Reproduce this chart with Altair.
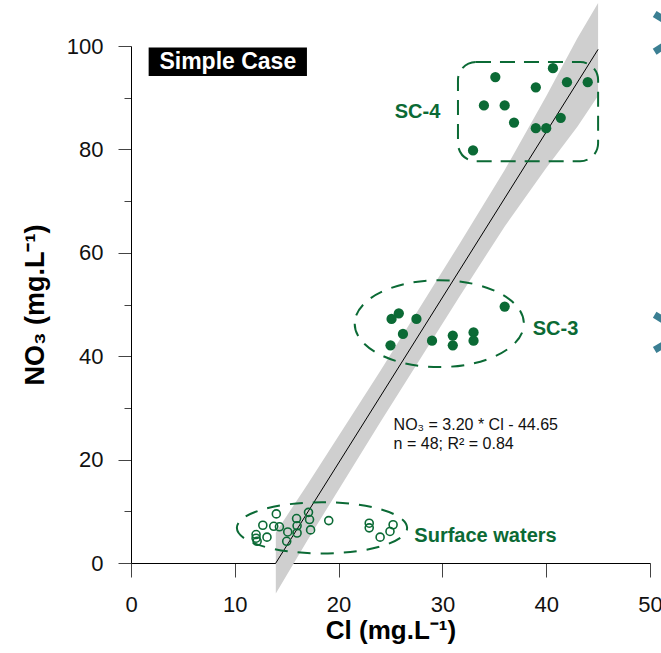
import altair as alt
import pandas as pd

GREEN = "#0b6a35"
TEAL = "#3b7f93"
BAND = "#cfcfcf"
FONT = "Liberation Sans"

# ---- samples: chloride (mg/L) vs nitrate (mg/L) ----
sc4_cl = [35.1, 40.65, 39.0, 42.0, 44.0, 34.0, 36.0, 36.9, 39.0, 40.0, 41.4, 32.95]
sc4_no3 = [94.0, 95.7, 92.0, 93.0, 93.0, 88.5, 88.5, 85.2, 84.1, 84.1, 86.1, 79.8]

sc3_cl = [25.8, 25.1, 27.5, 26.2, 25.0, 29.0, 31.0, 31.0, 33.0, 33.0, 36.0]
sc3_no3 = [48.3, 47.2, 47.2, 44.3, 42.1, 43.0, 44.0, 42.1, 44.6, 43.0, 49.6]

sw_cl = [14.0, 12.7, 13.75, 14.3, 12.05, 13.1, 12.05, 12.15, 15.1, 15.0, 15.95,
         16.0, 16.0, 17.1, 17.2, 17.3, 19.05, 22.95, 22.95, 24.0, 24.95, 25.25]
sw_no3 = [9.5, 7.3, 7.1, 7.0, 5.5, 5.0, 4.8, 4.2, 6.0, 4.2, 8.6,
          7.2, 5.8, 9.8, 8.4, 6.4, 8.2, 7.7, 6.8, 5.0, 6.1, 7.4]

# ---- linear fit NO3 = 3.20 * Cl - 44.65 and its shaded band ----
slope, intercept = 3.20, -44.65
fit_cl = [13.95, 45.0]
band_cl = [13.95, 17.0, 24.0, 31.7, 36.0, 40.0, 43.0, 45.0]
band_lo = [-5.9, 4.4, 27.2, 51.7, 65.1, 76.4, 84.4, 90.4]
band_hi = [5.9, 15.2, 37.1, 61.9, 76.0, 90.3, 101.5, 108.3]

# ---- group outlines (centre / half extents in data units) ----
sc3_ring = {"cl": 29.7, "no3": 46.3, "half_cl": 8.15, "half_no3": 8.4}
sw_ring = {"cl": 18.4, "no3": 6.8, "half_cl": 8.2, "half_no3": 4.95}
sc4_box = {"cl": [31.5, 45.0], "no3": [77.7, 96.9]}

# ---- text annotations ----
group_labels_left = {"text": ["SC-3", "Surface waters"], "cl": [38.7, 27.3], "no3": [45.3, 5.2]}
group_labels_right = {"text": ["SC-4"], "cl": [29.8], "no3": [87.3]}
eq_lines = {"text": ["NO\u2083 = 3.20 * Cl - 44.65", "n = 48; R\u00b2 = 0.84"],
            "cl": [25.3, 25.3], "no3": [25.8, 22.1]}
badge = {"cl": [1.7, 16.95], "no3": [94.2, 99.7], "text": "Simple Case"}

# arrow heads of the neighbouring panel, cut by the right edge
chevron_arms = {"cl": [50.45, 50.45, 50.45, 50.45],
                "tip_cl": [53.3, 53.3, 53.3, 53.3],
                "no3": [106.2, 98.9, 48.0, 41.2],
                "tip_no3": [102.6, 102.6, 44.6, 44.6]}

W, H = 519, 517
X_MAX, Y_MAX = 50, 100
PX_X, PX_Y = W / X_MAX, H / Y_MAX

x_scale = alt.Scale(domain=[0, X_MAX], nice=False, zero=False)
y_scale = alt.Scale(domain=[0, Y_MAX], nice=False, zero=False)

x_axis = alt.Axis(values=[0, 10, 20, 30, 40, 50], tickSize=14, tickColor="#444",
                  domainColor="#000", labelFontSize=22, labelColor="#111", labelFont=FONT,
                  labelPadding=17, labelFlush=False, title="Cl (mg.L\u207b\u00b9)",
                  titleFont=FONT, titleFontSize=26, titleFontWeight="bold",
                  titleColor="#000", titlePadding=2, grid=False)
y_axis = alt.Axis(values=list(range(0, 101, 10)),
                  tickSize={"condition": {"test": "datum.value % 20 === 0", "value": 13}, "value": 7},
                  tickColor="#444", domainColor="#000", labelFontSize=22, labelColor="#111",
                  labelFont=FONT, labelPadding=15, labelFlush=False, labelOverlap=False,
                  labelExpr="datum.value % 20 === 0 ? datum.label : ''",
                  title="NO\u2083 (mg.L\u207b\u00b9)", titleFont=FONT, titleFontSize=27,
                  titleFontWeight="bold", titleColor="#000", titlePadding=17, grid=False)


def X(field="cl"):
    return alt.X(f"{field}:Q", scale=x_scale, axis=x_axis)


def Y(field="no3"):
    return alt.Y(f"{field}:Q", scale=y_scale, axis=y_axis)


def ellipse_path(ring):
    a = ring["half_cl"] * PX_X
    b = ring["half_no3"] * PX_Y
    return f"M{-a:.2f},0 A{a:.2f},{b:.2f} 0 1,0 {a:.2f},0 A{a:.2f},{b:.2f} 0 1,0 {-a:.2f},0 Z"


band = alt.Chart(pd.DataFrame({"cl": band_cl, "lo": band_lo, "hi": band_hi})).mark_area(
    color=BAND, clip=False
).encode(x=X(), y=Y("lo"), y2="hi:Q")

fit_df = pd.DataFrame({"cl": fit_cl, "no3": [slope * c + intercept for c in fit_cl]})
fit = alt.Chart(fit_df).mark_line(color="#000", strokeWidth=1, clip=False).encode(x=X(), y=Y())

rings = []
for ring in (sc3_ring, sw_ring):
    rings.append(
        alt.Chart(pd.DataFrame({"cl": [ring["cl"]], "no3": [ring["no3"]]})).mark_point(
            shape=ellipse_path(ring), size=4, filled=False, stroke=GREEN, strokeWidth=2,
            strokeDash=[13, 10], opacity=1
        ).encode(x=X(), y=Y())
    )

box = alt.Chart(pd.DataFrame({"cl": [sc4_box["cl"][0]], "cl2": [sc4_box["cl"][1]],
                              "no3": [sc4_box["no3"][0]], "no32": [sc4_box["no3"][1]]})).mark_rect(
    fillOpacity=0, stroke=GREEN, strokeWidth=2, strokeDash=[15, 9], cornerRadius=18
).encode(x=X(), x2="cl2:Q", y=Y(), y2="no32:Q")

filled = alt.Chart(pd.DataFrame({"cl": sc4_cl + sc3_cl, "no3": sc4_no3 + sc3_no3})).mark_circle(
    size=105, color=GREEN, opacity=1
).encode(x=X(), y=Y())

hollow = alt.Chart(pd.DataFrame({"cl": sw_cl, "no3": sw_no3})).mark_point(
    size=64, filled=False, color=GREEN, strokeWidth=1.6, opacity=1
).encode(x=X(), y=Y())

labels_l = alt.Chart(pd.DataFrame(group_labels_left)).mark_text(
    align="left", baseline="middle", font=FONT, fontSize=20, fontWeight="bold", color=GREEN
).encode(x=X(), y=Y(), text="text:N")
labels_r = alt.Chart(pd.DataFrame(group_labels_right)).mark_text(
    align="right", baseline="middle", font=FONT, fontSize=20, fontWeight="bold", color=GREEN
).encode(x=X(), y=Y(), text="text:N")

equation = alt.Chart(pd.DataFrame(eq_lines)).mark_text(
    align="left", baseline="alphabetic", font=FONT, fontSize=16, color="#111"
).encode(x=X(), y=Y(), text="text:N")

badge_bg = alt.Chart(pd.DataFrame({"cl": [badge["cl"][0]], "cl2": [badge["cl"][1]],
                                   "no3": [badge["no3"][0]], "no32": [badge["no3"][1]]})).mark_rect(
    color="#000"
).encode(x=X(), x2="cl2:Q", y=Y(), y2="no32:Q")
badge_txt = alt.Chart(pd.DataFrame({"cl": [sum(badge["cl"]) / 2], "no3": [sum(badge["no3"]) / 2],
                                    "text": [badge["text"]]})).mark_text(
    align="center", baseline="middle", font=FONT, fontSize=23, fontWeight="bold", color="#fff"
).encode(x=X(), y=Y(), text="text:N")

chevrons = alt.Chart(pd.DataFrame(chevron_arms)).mark_rule(
    color=TEAL, strokeWidth=7, strokeCap="butt", clip=False
).encode(x=X(), x2="tip_cl:Q", y=Y(), y2="tip_no3:Q")

chart = alt.layer(
    band, fit, *rings, box, hollow, filled, labels_l, labels_r, equation, badge_bg, badge_txt, chevrons
).properties(
    width=W, height=H, autosize=alt.AutoSizeParams(type="none"),
    padding={"left": 131, "top": 46, "right": 661 - 131 - W, "bottom": 653 - 46 - H},
    background="#ffffff"
).configure_view(stroke=None)

chart.save("out.html", embed_options={"renderer": "svg", "actions": False})
